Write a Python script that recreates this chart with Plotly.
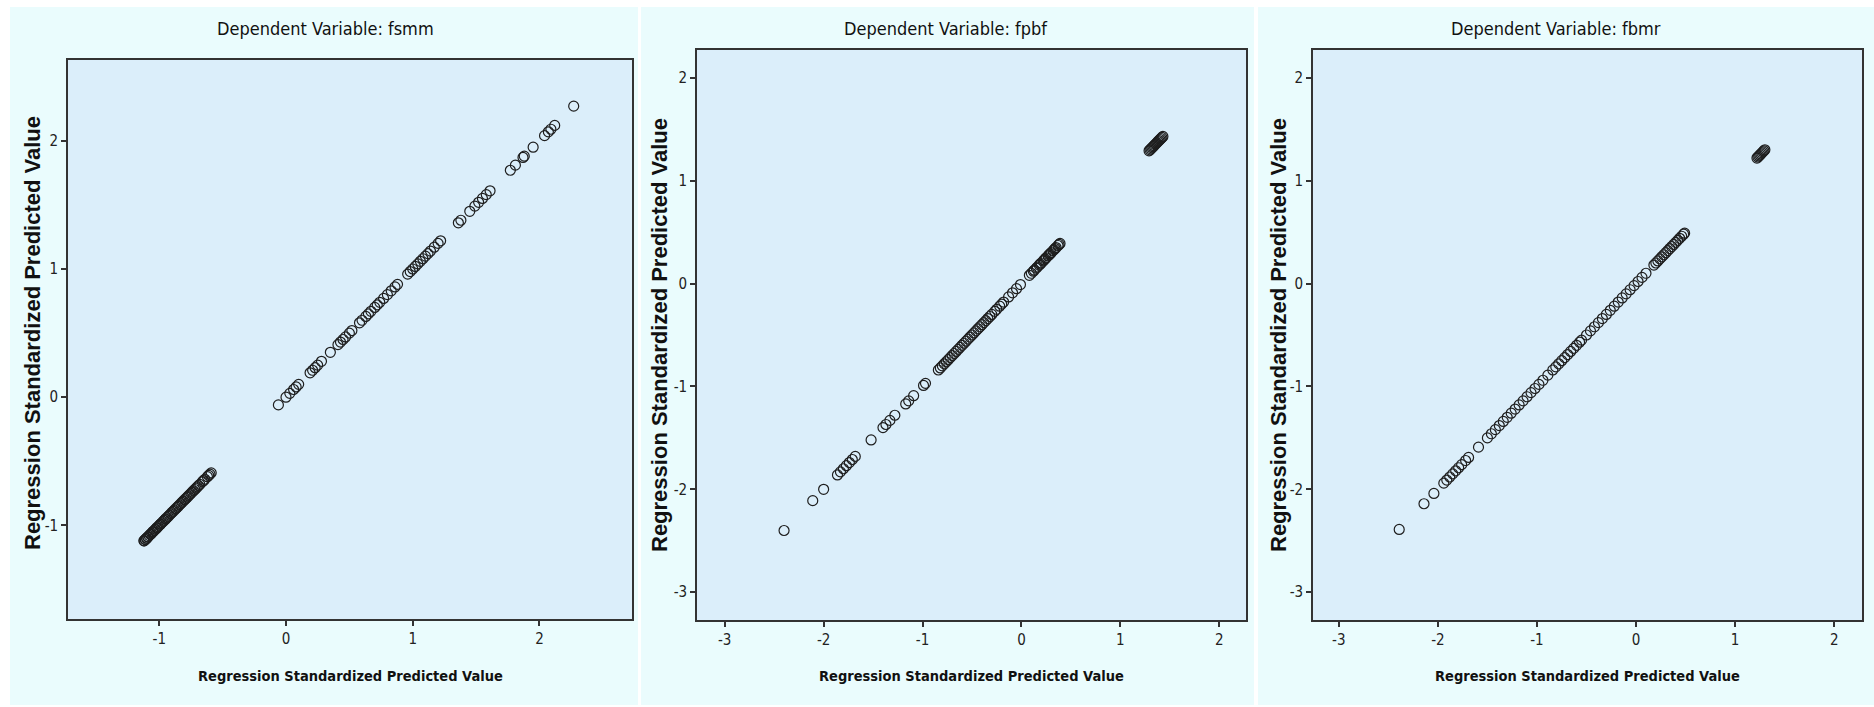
import plotly.graph_objects as go

W, H = 1874, 707

# ---------------- data ----------------
panel_titles = ["Dependent Variable: fsmm", "Dependent Variable: fpbf", "Dependent Variable: fbmr"]
axis_title = "Regression Standardized Predicted Value"

fsmm_pred = [
    -1.12, -1.12, -1.11, -1.11, -1.10, -1.10, -1.09, -1.09, -1.08, -1.07, -1.07, -1.06,
    -1.05, -1.05, -1.04, -1.03, -1.02, -1.02, -1.01, -1.00, -0.99, -0.99, -0.98, -0.97,
    -0.96, -0.95, -0.95, -0.94, -0.93, -0.92, -0.91, -0.90, -0.89, -0.88, -0.87, -0.86,
    -0.85, -0.84, -0.83, -0.82, -0.81, -0.80, -0.79, -0.78, -0.77, -0.76, -0.75, -0.74,
    -0.73, -0.72, -0.71, -0.70, -0.69, -0.68, -0.66, -0.65, -0.64, -0.62, -0.61, -0.60,
    -0.59,
    -0.06, 0.00, 0.03, 0.06, 0.08, 0.10, 0.19, 0.21, 0.23, 0.25, 0.28, 0.35,
    0.41, 0.43, 0.45, 0.47, 0.50, 0.52, 0.58, 0.60, 0.63, 0.65, 0.67, 0.70,
    0.72, 0.74, 0.77, 0.80, 0.83, 0.86, 0.88, 0.96, 0.98, 1.00, 1.02, 1.04,
    1.06, 1.08, 1.10, 1.12, 1.14, 1.17, 1.20, 1.22, 1.36, 1.38, 1.45, 1.49,
    1.52, 1.55, 1.58, 1.61, 1.77, 1.81, 1.87, 1.88, 1.95, 2.04, 2.07, 2.09,
    2.12, 2.27,
]

fpbf_pred = [
    -2.40, -2.11, -2.00, -1.86, -1.83, -1.80, -1.77, -1.74, -1.71, -1.68, -1.52, -1.40,
    -1.37, -1.33, -1.28, -1.17, -1.14, -1.09, -0.99, -0.97,
    -0.84, -0.82, -0.80, -0.78, -0.76, -0.74, -0.72, -0.70, -0.68, -0.66, -0.64, -0.62,
    -0.60, -0.58, -0.56, -0.54, -0.52, -0.50, -0.48, -0.46, -0.44, -0.42, -0.40, -0.38,
    -0.36, -0.34, -0.32, -0.30, -0.27, -0.25, -0.22, -0.20, -0.18,
    -0.13, -0.09, -0.05, -0.01,
    0.08, 0.10, 0.12, 0.13, 0.15, 0.16, 0.18, 0.19, 0.20, 0.22, 0.23, 0.24,
    0.25, 0.27, 0.28, 0.29, 0.30, 0.32, 0.33, 0.34, 0.35, 0.37, 0.38, 0.39,
    1.29, 1.30, 1.31, 1.32, 1.33, 1.34, 1.35, 1.36, 1.37, 1.38, 1.39, 1.40,
    1.41, 1.42, 1.43,
]

fbmr_pred = [
    -2.39, -2.14, -2.04, -1.94, -1.91, -1.88, -1.85, -1.82, -1.79, -1.76, -1.72, -1.69,
    -1.59, -1.50, -1.46, -1.42, -1.38, -1.34, -1.30, -1.26, -1.22, -1.18, -1.14, -1.10,
    -1.06, -1.02, -0.98, -0.94, -0.89, -0.84, -0.81, -0.78, -0.75, -0.72, -0.69, -0.66,
    -0.63, -0.60, -0.57, -0.55, -0.50, -0.46, -0.42, -0.38, -0.34, -0.30, -0.26, -0.22,
    -0.18, -0.14, -0.10, -0.06, -0.02, 0.02, 0.06, 0.10, 0.18, 0.20, 0.22, 0.24,
    0.26, 0.28, 0.30, 0.32, 0.34, 0.36, 0.38, 0.40, 0.42, 0.44, 0.46, 0.48,
    0.49,
    1.22, 1.23, 1.24, 1.25, 1.26, 1.27, 1.28, 1.29, 1.30,
]

series = [fsmm_pred, fpbf_pred, fbmr_pred]
tick_sets_x = [[-1, 0, 1, 2], [-3, -2, -1, 0, 1, 2], [-3, -2, -1, 0, 1, 2]]
tick_sets_y = [[-1, 0, 1, 2], [-3, -2, -1, 0, 1, 2], [-3, -2, -1, 0, 1, 2]]
x_ranges = [[-1.72, 2.73], [-3.28, 2.27], [-3.26, 2.28]]
y_ranges = [[-1.73, 2.63], [-3.27, 2.27], [-3.27, 2.27]]

# ---------------- layout geometry (pixels) ----------------
plot_px = [  # x0, x1, y0(top), y1(bottom)
    (68, 632, 60, 619),
    (697, 1246, 50, 620),
    (1313, 1862, 50, 620),
]
white_strips_px = [(0, 1874, 0, 7), (0, 10, 0, 707), (638, 641, 0, 707),
                   (1254, 1258, 0, 707), (0, 1874, 705, 707)]
title_xy = [(325, 28), (946, 28), (1556, 28)]
xtitle_xy = [(350, 676), (971, 676), (1587, 676)]
ytitle_xy = [(33, 333), (659, 335), (1278, 335)]

NARROW = "DejaVu Sans Condensed, Liberation Sans Narrow, sans-serif"
WIDE = "Liberation Sans, Arial, sans-serif"
OUTER_BG = "#eafcfd"
PLOT_BG = "#dbeefa"
INK = "#1e1e1e"


def px(x):
    return x / W


def py(y):
    return 1 - y / H


fig = go.Figure()
shapes = []
annotations = []

for sx0, sx1, sy0, sy1 in white_strips_px:
    shapes.append(dict(type="rect", xref="paper", yref="paper", layer="below",
                       x0=px(sx0), x1=px(sx1), y0=py(sy1), y1=py(sy0),
                       fillcolor="white", line=dict(width=0)))

for i, vals in enumerate(series):
    n = "" if i == 0 else str(i + 1)
    fig.add_trace(go.Scatter(
        x=vals, y=vals, mode="markers",
        xaxis="x" + n, yaxis="y" + n,
        marker=dict(symbol="circle-open", size=10, color=INK, line=dict(width=1.2, color=INK)),
        showlegend=False, hoverinfo="x+y",
    ))
    x0, x1, y0, y1 = plot_px[i]
    common = dict(
        showline=True, mirror=True, linecolor="#333333", linewidth=1.6,
        ticks="outside", ticklen=5, tickwidth=1.5, tickcolor="#333333",
        showgrid=False, zeroline=False,
        tickfont=dict(family=NARROW, size=15, color="#222222"),
    )
    fig.update_layout(**{
        "xaxis" + n: dict(domain=[px(x0), px(x1)], range=x_ranges[i], tickvals=tick_sets_x[i],
                          ticktext=[str(v) for v in tick_sets_x[i]],
                          anchor="y" + n, **common),
        "yaxis" + n: dict(domain=[py(y1), py(y0)], range=y_ranges[i], tickvals=tick_sets_y[i],
                          ticktext=[str(v) for v in tick_sets_y[i]],
                          anchor="x" + n, **common),
    })
    tx, ty = title_xy[i]
    annotations.append(dict(text=panel_titles[i], x=px(tx), y=py(ty), xref="paper", yref="paper",
                            showarrow=False, xanchor="center", yanchor="middle",
                            font=dict(family=NARROW, size=18, color="#111111")))
    ax_, ay_ = xtitle_xy[i]
    annotations.append(dict(text="<b>" + axis_title + "</b>", x=px(ax_), y=py(ay_), xref="paper", yref="paper",
                            showarrow=False, xanchor="center", yanchor="middle",
                            font=dict(family=NARROW, size=14.5, color="#111111")))
    yx_, yy_ = ytitle_xy[i]
    annotations.append(dict(text="<b>" + axis_title + "</b>", x=px(yx_), y=py(yy_), xref="paper", yref="paper",
                            showarrow=False, xanchor="center", yanchor="middle", textangle=-90,
                            font=dict(family=WIDE, size=22, color="#111111")))

fig.update_layout(
    width=W, height=H, margin=dict(l=0, r=0, t=0, b=0),
    paper_bgcolor=OUTER_BG, plot_bgcolor=PLOT_BG,
    shapes=shapes, annotations=annotations,
)

fig.write_html("out.html")
